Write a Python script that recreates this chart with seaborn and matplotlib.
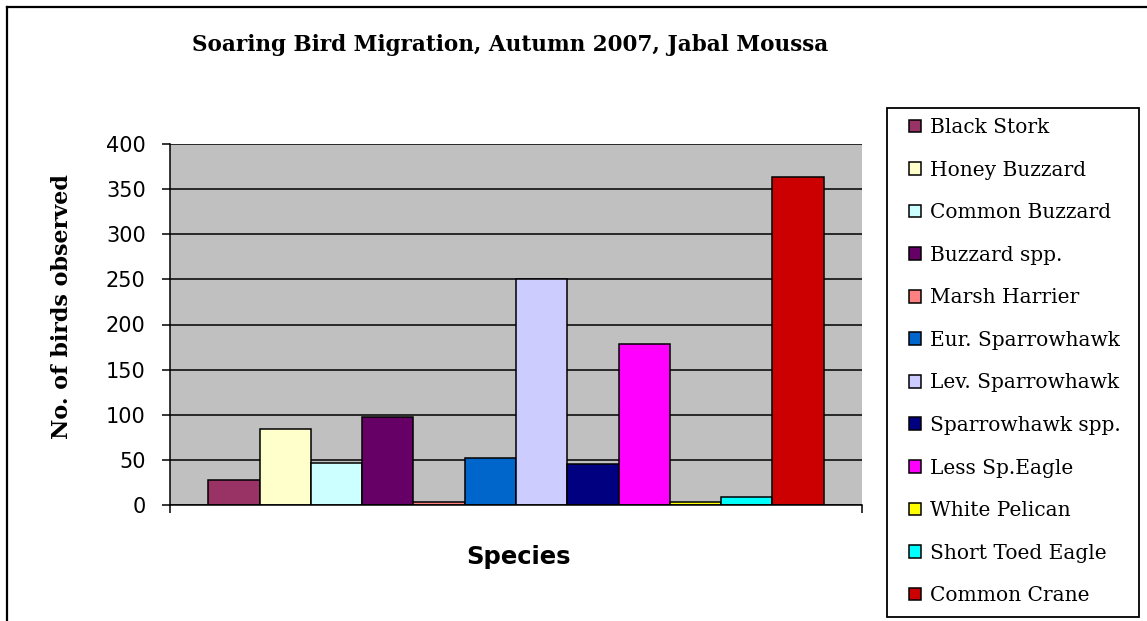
import matplotlib
matplotlib.use("Agg")
import matplotlib.pyplot as plt
from matplotlib.lines import Line2D
from matplotlib.patches import Rectangle
import pandas as pd
import seaborn as sns

# Species counted and their totals
species = [
    "Black Stork", "Honey Buzzard", "Common Buzzard", "Buzzard spp.",
    "Marsh Harrier", "Eur. Sparrowhawk", "Lev. Sparrowhawk",
    "Sparrowhawk spp.", "Less Sp.Eagle", "White Pelican",
    "Short Toed Eagle", "Common Crane",
]
counts = [28, 84, 46, 97, 3, 52, 250, 45, 178, 3, 9, 363]
colors = [
    "#993366", "#FFFFCC", "#CCFFFF", "#660066", "#FF8080", "#0066CC",
    "#CCCCFF", "#000080", "#FF00FF", "#FFFF00", "#00FFFF", "#CC0000",
]
y_ticks = [0, 50, 100, 150, 200, 250, 300, 350, 400]

W, H = 1147, 621
fig = plt.figure(figsize=(W / 100, H / 100), dpi=100)
fig.patch.set_facecolor("white")


def fx(px):
    return px / W


def fy(py):
    return 1 - py / H


ax = fig.add_axes([fx(170), fy(505), fx(862) - fx(170), fy(144) - fy(505)])
ax.set_facecolor("#C0C0C0")

df = pd.DataFrame({"group": ["all"] * len(species), "species": species, "count": counts})
sns.barplot(
    data=df, x="group", y="count", hue="species", hue_order=species,
    palette=dict(zip(species, colors)), width=0.889, dodge=True,
    edgecolor="black", linewidth=1.1, saturation=1, errorbar=None, ax=ax,
)

handles, labels = ax.get_legend_handles_labels()
if ax.legend_ is not None:
    ax.legend_.remove()

ax.set_xlim(-0.5, 0.5)
ax.set_ylim(0, 400)
ax.set_yticks(y_ticks)
ax.set_yticklabels([str(v) for v in y_ticks], fontsize=15, family="DejaVu Sans")
ax.set_xticks([-0.5, 0.5])
ax.set_xticklabels(["", ""])
ax.tick_params(axis="both", direction="out", length=5.5, width=1.1, color="black", pad=12)
ax.set_axisbelow(True)
ax.yaxis.grid(True, color="black", linewidth=1.1)
ax.xaxis.grid(False)
for side in ("top", "right"):
    ax.spines[side].set_visible(False)
for side in ("left", "bottom"):
    ax.spines[side].set_color("black")
    ax.spines[side].set_linewidth(1.1)
ax.set_xlabel("")
ax.set_ylabel("")

# Titles and axis labels
fig.text(fx(510), fy(45), "Soaring Bird Migration, Autumn 2007, Jabal Moussa",
         ha="center", va="center", fontsize=15.5, fontweight="bold", family="DejaVu Serif")
fig.text(fx(62), fy(307), "No. of birds observed", rotation=90,
         ha="center", va="center", fontsize=16, fontweight="bold", family="DejaVu Serif")
fig.text(fx(519), fy(557), "Species", ha="center", va="center",
         fontsize=17.5, fontweight="bold", family="DejaVu Sans")

# Legend with its own box
fig.patches.append(Rectangle((fx(887), fy(617)), fx(1139) - fx(887), fy(108) - fy(617),
                             transform=fig.transFigure, facecolor="white",
                             edgecolor="black", linewidth=1.3, zorder=1))
leg = fig.legend(handles, labels, loc="upper left",
                 bbox_to_anchor=(fx(909), fy(118)), frameon=False,
                 prop={"family": "DejaVu Serif", "size": 14.5},
                 handlelength=0.6, handleheight=0.6, handletextpad=0.42,
                 labelspacing=1.17, borderpad=0, borderaxespad=0)
leg.set_zorder(2)

# Outer chart frame
fig.add_artist(Line2D([fx(7), 1.0], [fy(7), fy(7)], transform=fig.transFigure,
                      color="black", linewidth=1.6))
fig.add_artist(Line2D([fx(7), fx(7)], [fy(7), 0.0], transform=fig.transFigure,
                      color="black", linewidth=1.6))

fig.savefig("out.png", dpi=100)
